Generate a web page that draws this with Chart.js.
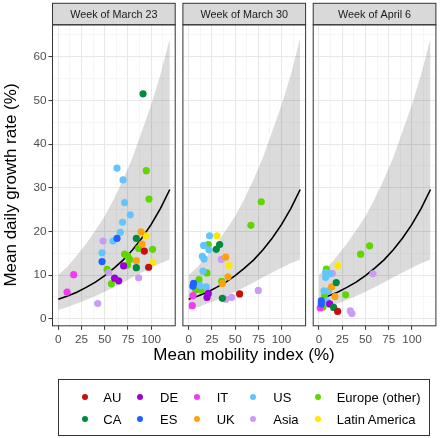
<!DOCTYPE html>
<html><head><meta charset="utf-8">
<script src="https://cdn.jsdelivr.net/npm/chart.js@4.4.1/dist/chart.umd.min.js"></script>
<style>
html,body{margin:0;padding:0;background:#fff;width:440px;height:438px;overflow:hidden;font-family:"Liberation Sans",Arial,sans-serif}
canvas.c{position:absolute;left:0;top:0}
#legend{position:absolute;left:58px;top:379px;width:372px;height:57px;border:1px solid #333;box-sizing:border-box;background:#fff}
#legend .d{position:absolute;width:6.4px;height:6.4px;border-radius:50%}
#legend .t{position:absolute;font-size:13px;line-height:13px;color:#000;white-space:nowrap}
.ttl{position:absolute;font-size:17px;line-height:20px;color:#000;white-space:nowrap;text-align:center}
#xt{left:44px;width:400px;top:345px}
#yt{left:-189px;width:400px;top:175px;transform:rotate(-90deg);transform-origin:200px 10px}
</style></head>
<body>
<canvas id="p1" class="c" width="440" height="438"></canvas>
<canvas id="p2" class="c" width="440" height="438"></canvas>
<canvas id="p3" class="c" width="440" height="438"></canvas>
<div id="xt" class="ttl">Mean mobility index (%)</div>
<div id="yt" class="ttl">Mean daily growth rate (%)</div>
<div id="legend"></div>
<script>
// ---- data ----
const groups = ['AU','CA','DE','ES','IT','UK','US','Asia','Europe (other)','Latin America'];
const weeks = ['Week of March 23','Week of March 30','Week of April 6'];

const w1Group = ['US','US','US','US','US','US','US','US',
  'Europe (other)','Europe (other)','Europe (other)','Europe (other)','Europe (other)','Europe (other)','Europe (other)','Europe (other)','Europe (other)','Europe (other)',
  'Asia','Asia','Asia','Asia','ES','ES','UK','UK','UK','Latin America','Latin America',
  'CA','CA','CA','AU','AU','DE','DE','DE','IT','IT'];
const w1Mobility = [69.2,66.8,58.9,47.1,63.2,69.7,71.4,77.5,
  94.7,97.6,86.5,101.5,71.4,74.6,76.8,74.6,52.5,57.1,
  48.2,86.5,54.3,42.4,63.2,47.1,89.0,90.1,84.0,94.4,101.5,
  84.0,84.0,91.2,92.6,97.2,70.3,60.6,65.0,16.6,9.5];
const w1Growth = [22.1,19.8,17.8,15.1,34.5,31.8,26.6,23.8,
  33.9,27.4,16.1,15.9,14.8,14.4,13.6,12.3,11.3,8.0,
  17.8,9.4,10.6,3.5,18.4,13.1,19.9,17.1,13.3,19.0,12.9,
  18.4,11.7,51.5,15.5,11.8,12.1,9.3,8.7,10.1,6.1];

const w2Group = ['Europe (other)','Europe (other)','US','Latin America','CA','CA','Europe (other)','US','US','US','US',
  'Asia','UK','Latin America','US','Europe (other)','UK','Europe (other)','Europe (other)','UK','ES','ES','US','US',
  'Europe (other)','Europe (other)','IT','DE','DE','CA','Asia','Asia','AU','Asia','IT'];
const w2Mobility = [78.1,67.0,22.5,30.4,33.3,29.7,21.1,16.1,21.8,14.7,16.5,
  35.1,39.8,43.3,15.4,19.7,42.3,11.1,35.5,36.2,5.3,4.6,12.5,19.0,
  7.5,13.6,4.6,21.1,19.7,36.2,39.8,46.2,54.8,74.9,3.9];
const w2Growth = [26.8,21.4,19.0,19.0,17.0,15.9,17.0,16.8,15.8,14.3,13.7,
  13.6,14.1,12.2,10.9,10.5,9.6,9.0,8.6,8.1,8.1,7.5,7.6,7.3,
  6.6,6.6,5.3,5.8,4.9,4.7,4.5,4.9,5.7,6.5,3.0];

const w3Group = ['Europe (other)','Europe (other)','Latin America','Europe (other)','US','Asia','US','US','Asia','CA',
  'UK','US','US','Europe (other)','Europe (other)','UK','ES','ES','US','DE','CA','IT','Europe (other)','AU','Asia','Asia'];
const w3Mobility = [54.5,44.8,20.4,7.9,7.2,14.3,11.5,7.2,58.1,18.6,
  13.6,5.4,10.4,28.7,6.1,17.2,2.5,2.5,8.6,11.5,15.8,1.4,4.3,20.1,33.7,35.5];
const w3Growth = [16.7,14.8,12.2,11.4,10.6,10.4,10.3,9.5,10.3,8.3,
  7.3,6.4,6.4,5.5,5.5,5.1,4.1,3.4,4.0,3.4,2.6,2.5,2.7,1.7,1.8,1.2];

// fitted curve and band (read at mobility 0,10,...,120)
const fitMobility = [0,10,20,30,40,50,60,70,80,90,100,110,120];
const fitGrowth   = [4.5,5.2,6.1,7.2,8.4,9.9,11.6,13.5,15.8,18.5,21.6,25.3,29.6];
const bandLow     = [2.0,2.7,3.5,4.3,5.2,6.2,7.2,8.3,9.5,10.6,11.7,12.7,13.6];
const bandHigh    = [10.0,12.0,14.5,17.2,20.3,23.5,27.5,32.0,37.0,43.0,49.0,56.0,64.2];

const xTicks = [0,12.5,25,37.5,50,62.5,75,87.5,100,112.5];
const yTicks = [0,5,10,15,20,25,30,35,40,45,50,55,60,65];

// ---- styles ----
const colors = {
  'AU':'#C30F0F','CA':'#008A3E','DE':'#9B00D9','ES':'#2161FF','IT':'#F23AF0',
  'UK':'#FFA20F','US':'#63C5FF','Asia':'#CC9CF5','Europe (other)':'#60D600','Latin America':'#FFE800'
};
const FONT = '"Liberation Sans", Arial, sans-serif';
const panelLeft = [52.5, 182.9, 313.2];
const panelW = 122.7, panelTop = 24.8, panelBottom = 325.8, stripTop = 3.3;

const framePlugin = {
  id:'frame',
  afterDraw(chart, args, opts){
    const {ctx, chartArea:a} = chart;
    ctx.save();
    ctx.fillStyle='#d9d9d9';
    ctx.fillRect(a.left, stripTop, a.right-a.left, a.top-stripTop);
    ctx.strokeStyle='#333333'; ctx.lineWidth=1;
    ctx.strokeRect(a.left, stripTop, a.right-a.left, a.top-stripTop);
    ctx.strokeRect(a.left, a.top, a.right-a.left, a.bottom-a.top);
    ctx.fillStyle='#1a1a1a';
    ctx.font='10.8px '+FONT;
    ctx.textAlign='center'; ctx.textBaseline='middle';
    ctx.fillText(opts.text, (a.left+a.right)/2, (stripTop+a.top)/2+0.5);
    ctx.restore();
  }
};

function pts(xs, ys){ return xs.map((x,i)=>({x:x, y:ys[i]})); }

function makePanel(i, gArr, xArr, yArr){
  const datasets = [];
  datasets.push({data:pts(fitMobility,bandLow), showLine:true, pointRadius:0, borderWidth:0, borderColor:'rgba(0,0,0,0)', fill:false, order:5});
  datasets.push({data:pts(fitMobility,bandHigh), showLine:true, pointRadius:0, borderWidth:0, borderColor:'rgba(0,0,0,0)', fill:'-1', backgroundColor:'rgba(0,0,0,0.14)', order:4});
  datasets.push({data:pts(fitMobility,fitGrowth), showLine:true, pointRadius:0, borderWidth:1.6, borderColor:'#000', fill:false, order:3});
  groups.forEach(g=>{
    const xs=[], ys=[];
    gArr.forEach((gg,k)=>{ if(gg===g){ xs.push(xArr[k]); ys.push(yArr[k]); } });
    datasets.push({label:g, data:pts(xs,ys), pointRadius:3.6, pointBorderWidth:0, backgroundColor:colors[g], borderColor:colors[g], order:1});
  });
  const first = i===0;
  const cfg = {
    type:'scatter',
    data:{datasets},
    options:{
      responsive:false, animation:false, events:[],
      layout:{padding:{left: first?0:panelLeft[i], right:440-(panelLeft[i]+panelW), top:panelTop, bottom:0}},
      plugins:{legend:{display:false}, tooltip:{enabled:false}, frame:{text:weeks[i]}},
      scales:{
        x:{type:'linear', min:-6.2, max:125.8,
          afterBuildTicks:s=>{ s.ticks = xTicks.map(v=>({value:v})); },
          afterFit:s=>{ s.height = 438-panelBottom; },
          ticks:{autoSkip:false, maxRotation:0, padding:2.5, color:'#4d4d4d', font:{family:FONT, size:11.7},
            callback:v=> (v%25===0 ? String(v) : '')},
          grid:{color:c=> (c.tick && c.tick.value%25===0) ? '#e8e8e8' : '#f2f2f2',
                lineWidth:c=> (c.tick && c.tick.value%25===0) ? 1.1 : 0.7,
                tickLength:4, tickWidth:1,
                tickColor:c=> (c.tick && c.tick.value%25===0) ? '#333333' : 'rgba(0,0,0,0)'},
          border:{display:false},
          title:{display:false}
        },
        y:{type:'linear', min:-1.6, max:67.3,
          afterBuildTicks:s=>{ s.ticks = yTicks.map(v=>({value:v})); },
          afterFit:s=>{ s.width = first ? panelLeft[0] : 0; },
          ticks:{display:first, autoSkip:false, padding:2, color:'#4d4d4d', font:{family:FONT, size:11.7},
            callback:v=> (v%10===0 ? String(v) : '')},
          grid:{color:c=> (c.tick && c.tick.value%10===0) ? '#e8e8e8' : '#f2f2f2',
                lineWidth:c=> (c.tick && c.tick.value%10===0) ? 1.1 : 0.7,
                drawTicks:first, tickLength:4, tickWidth:1,
                tickColor:c=> (c.tick && c.tick.value%10===0) ? '#333333' : 'rgba(0,0,0,0)'},
          border:{display:false},
          title:{display:false}
        }
      }
    },
    plugins:[framePlugin]
  };
  return new Chart(document.getElementById('p'+(i+1)), cfg);
}

makePanel(0, w1Group, w1Mobility, w1Growth);
makePanel(1, w2Group, w2Mobility, w2Growth);
makePanel(2, w3Group, w3Mobility, w3Growth);

// ---- legend ----
const legendRows = [['AU','DE','IT','US','Europe (other)'],['CA','ES','UK','Asia','Latin America']];
const legendDotX = [27, 82, 138.7, 195.3, 260.3];
const legendTextX = [45.3, 102, 158.7, 215.3, 278.7];
const legendRowY = [18.3, 40.3];
const lg = document.getElementById('legend');
legendRows.forEach((row,r)=>{
  row.forEach((g,c)=>{
    const d=document.createElement('div'); d.className='d';
    d.style.left=(legendDotX[c]-1-3.2)+'px'; d.style.top=(legendRowY[r]-1-3.2)+'px';
    d.style.background=colors[g]; lg.appendChild(d);
    const t=document.createElement('div'); t.className='t'; t.textContent=g;
    t.style.left=(legendTextX[c]-1)+'px'; t.style.top=(legendRowY[r]-1-6.5)+'px';
    lg.appendChild(t);
  });
});
</script>
</body></html>
